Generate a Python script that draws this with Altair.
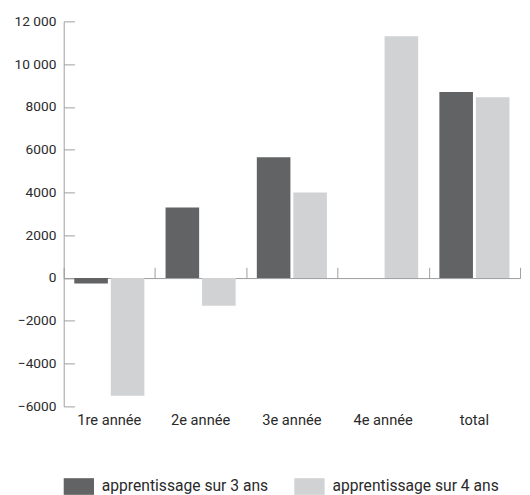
import altair as alt
import pandas as pd

categories = ["1re année", "2e année", "3e année", "4e année", "total"]
series = ["apprentissage sur 3 ans", "apprentissage sur 4 ans"]
values_3ans = [-250, 3300, 5650, 0, 8700]
values_4ans = [-5500, -1300, 4000, 11300, 8450]
y_ticks = [-6000, -4000, -2000, 0, 2000, 4000, 6000, 8000, 10000, 12000]
colors = ["#626365", "#d1d2d4"]

rows = []
for c, v in zip(categories, values_3ans):
    rows.append({"cat": c, "serie": series[0], "val": v})
for c, v in zip(categories, values_4ans):
    rows.append({"cat": c, "serie": series[1], "val": v})
df = pd.DataFrame(rows)

W, H = 467, 394
FONT = "Roboto"
TXT = "#2a2a2a"
AX = "#9d9d9d"
zero_off = -H * 12000 / 18000

xscale = alt.Scale(domain=categories, paddingInner=0, paddingOuter=0)
yscale = alt.Scale(domain=[-6000, 12000], nice=False, zero=False)

label_expr = "datum.value >= 10000 ? replace(format(datum.value, ','), ',', ' ') : format(datum.value, 'd')"

bars = alt.Chart(df).mark_bar().encode(
    x=alt.X("cat:N", sort=categories, scale=xscale, title=None,
            axis=alt.Axis(orient="bottom", ticks=False, domain=False, labelAngle=0,
                          labelPadding=7, labelFontSize=15, labelColor=TXT, labelFont=FONT)),
    xOffset=alt.XOffset("serie:N", sort=series,
                        scale=alt.Scale(paddingInner=0.08, paddingOuter=0.29)),
    y=alt.Y("val:Q", scale=yscale, title=None,
            axis=alt.Axis(orient="left", values=y_ticks, labelExpr=label_expr, ticks=False,
                          grid=False, domain=True, domainColor=AX, labelPadding=8,
                          labelFontSize=14, labelColor=TXT, labelFont=FONT)),
    color=alt.Color("serie:N", sort=series, scale=alt.Scale(domain=series, range=colors), title=None,
                    legend=alt.Legend(orient="none", legendX=0, legendY=460, direction="horizontal",
                                      symbolType="M-1,-0.55H1V0.55H-1Z", symbolSize=961,
                                      symbolStrokeWidth=0, labelFontSize=16, labelColor=TXT,
                                      labelFont=FONT, labelOffset=8, columnPadding=26, padding=0,
                                      labelLimit=300)),
)

ghost = alt.Chart(df).mark_bar(opacity=0).encode(
    x=alt.X("cat:N", sort=categories, scale=xscale, title=None,
            axis=alt.Axis(orient="top", offset=zero_off, labels=False, tickBand="extent",
                          tickSize=11, tickColor=AX, domainColor=AX, grid=False)),
    y=alt.Y("val:Q", scale=yscale, title=None,
            axis=alt.Axis(orient="right", offset=-W, values=y_ticks, labels=False, domain=False,
                          tickSize=11, tickColor=AX, grid=False)),
)

chart = alt.layer(ghost, bars).properties(
    width=W, height=H,
    autosize=alt.AutoSizeParams(type="none"),
    padding={"left": 57, "top": 8, "right": 2, "bottom": 86},
).configure_view(stroke=None)

chart.save("out.html", embed_options={"renderer": "svg", "actions": False})
